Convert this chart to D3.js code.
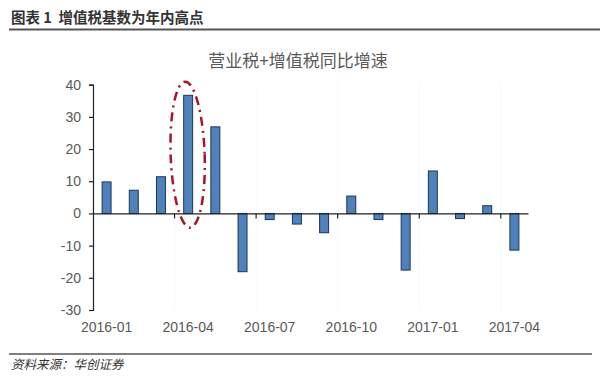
<!DOCTYPE html>
<html><head><meta charset="utf-8">
<script src="https://cdn.jsdelivr.net/npm/d3@7/dist/d3.min.js"></script>
<style>
body{margin:0;background:#fff;}
svg{display:block;}
</style></head>
<body>
<svg id="chart" width="600" height="380"></svg>
<script>
const months = ["2016-01","2016-02","2016-03","2016-04","2016-05","2016-06","2016-07","2016-08","2016-09","2016-10","2016-11","2016-12","2017-01","2017-02","2017-03","2017-04"];
const growth = [9.8, 7.2, 11.4, 36.7, 26.9, -18.1, -1.9, -3.3, -6.0, 5.4, -1.9, -17.6, 13.2, -1.6, 2.4, -11.4];
const labelMonths = ["2016-01","2016-04","2016-07","2016-10","2017-01","2017-04"];
const yTicks = [-30, -20, -10, 0, 10, 20, 30, 40];
const highlightMonth = "2016-04";
const headerText = "图表 1  增值税基数为年内高点";
const chartTitle = "营业税+增值税同比增速";
const sourceText = "资料来源：华创证券";

const svg = d3.select("#chart");
const cjk = "'Noto Sans CJK SC', 'Noto Sans', sans-serif";
const latin = "'Liberation Sans', Arial, sans-serif";

const x = d3.scaleBand().domain(months).range([93, 528]).paddingInner(0.67).paddingOuter(0.335);
const y = d3.scaleLinear().domain([-30, 40]).range([310, 84.7]);
const gap = (x.step() - x.bandwidth()) / 2;

// header
svg.append("text").attr("x", 11).attr("y", 23).attr("font-family", cjk).attr("font-weight", "bold")
  .attr("font-size", 14.5).attr("fill", "#333").style("white-space", "pre").text(headerText);
svg.append("line").attr("x1", 9).attr("x2", 600).attr("y1", 29.5).attr("y2", 29.5).attr("stroke", "#555").attr("stroke-width", 2);

// footer
svg.append("line").attr("x1", 9).attr("x2", 592).attr("y1", 354).attr("y2", 354).attr("stroke", "#555").attr("stroke-width", 1.5);
svg.append("text").attr("x", 11).attr("y", 369).attr("font-family", cjk).attr("font-style", "italic")
  .attr("font-size", 12.5).attr("fill", "#333").text(sourceText);

// title
svg.append("text").attr("x", 298).attr("y", 67).attr("text-anchor", "middle").attr("font-family", cjk)
  .attr("font-size", 17).attr("fill", "#595959").text(chartTitle);

// faint vertical grid at group boundaries
const boundaries = months.filter((m, i) => i > 0 && i % 3 === 0);
svg.append("g").selectAll("line").data(boundaries).join("line")
  .attr("x1", d => x(d) - gap).attr("x2", d => x(d) - gap)
  .attr("y1", y(40)).attr("y2", y(-30))
  .attr("stroke", "#f1f1f1").attr("stroke-dasharray", "2,2");

// bars
svg.append("g").selectAll("rect").data(months).join("rect")
  .attr("x", (d) => x(d))
  .attr("width", x.bandwidth())
  .attr("y", (d, i) => y(Math.max(0, growth[i])))
  .attr("height", (d, i) => Math.abs(y(growth[i]) - y(0)))
  .attr("fill", "#4F81BD").attr("stroke", "#1d3557").attr("stroke-width", 1);

// y axis
const yAxis = svg.append("g").attr("transform", "translate(93,0)")
  .call(d3.axisLeft(y).tickValues(yTicks).tickSize(4).tickPadding(8).tickFormat(d => String(d)));
yAxis.selectAll("text").attr("font-family", latin).attr("font-size", 14).attr("fill", "#595959");
yAxis.selectAll("line, path").attr("stroke", "#222").attr("stroke-width", 1.2);

// x axis at zero with ticks at group boundaries
const xAxis = svg.append("g").attr("transform", `translate(0,${y(0)})`)
  .call(d3.axisBottom(x).tickValues(boundaries).tickSize(5).tickSizeOuter(0).tickFormat(""));
xAxis.selectAll(".tick").attr("transform", d => `translate(${x(d) - gap},0)`);
xAxis.selectAll("line, path").attr("stroke", "#222").attr("stroke-width", 1.2);

// x labels at bottom
const xLab = svg.append("g").attr("transform", `translate(0,${y(-30)})`)
  .call(d3.axisBottom(x).tickValues(labelMonths).tickSize(0).tickPadding(12));
xLab.select(".domain").remove();
xLab.selectAll("text").attr("font-family", latin).attr("font-size", 14).attr("fill", "#595959");

// highlight ellipse (dash-dot)
const cx = x(highlightMonth) + x.bandwidth() / 2;
const cy = (y(40) + y(-1)) / 2 + 4;
svg.append("ellipse").attr("cx", 0).attr("cy", 0).attr("rx", 17).attr("ry", 73)
  .attr("transform", `translate(${cx - 0.5},${cy}) rotate(-2)`)
  .attr("fill", "none").attr("stroke", "#a3162b").attr("stroke-width", 2.5)
  .attr("stroke-dasharray", "9,5,2,5");
</script>
</body></html>
